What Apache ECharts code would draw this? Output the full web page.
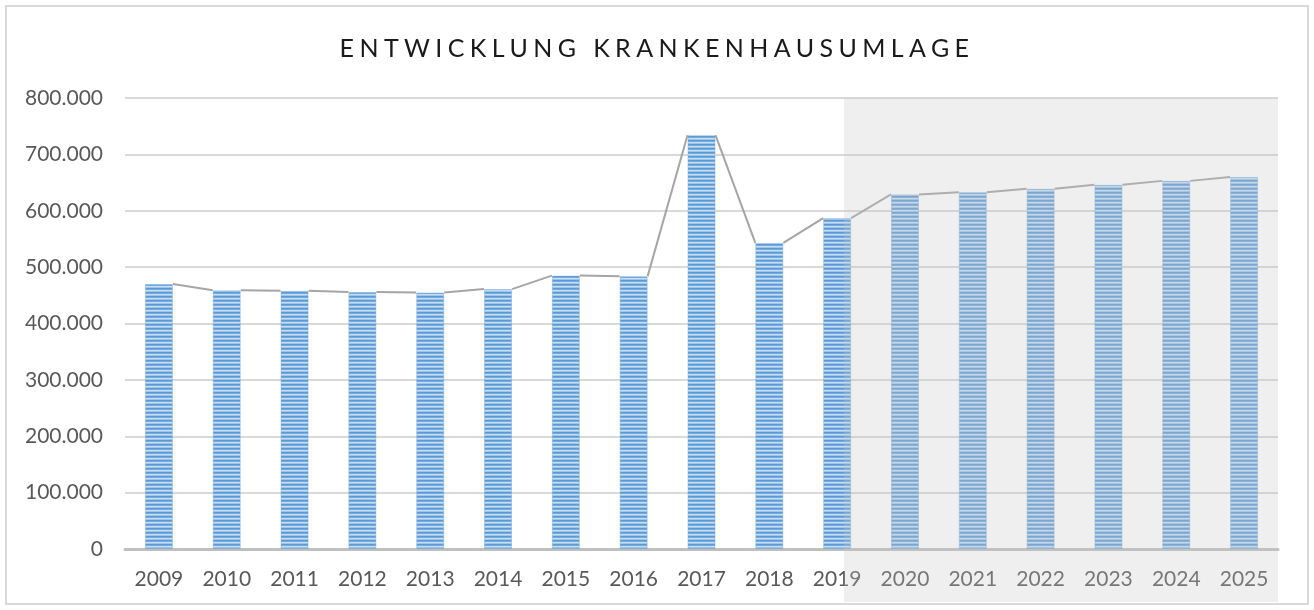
<!DOCTYPE html>
<html>
<head>
<meta charset="utf-8">
<script src="https://cdn.jsdelivr.net/npm/echarts@6/dist/echarts.min.js"></script>
<style>
  html, body { margin: 0; padding: 0; background: #fff; }
  #wrap { position: relative; width: 1314px; height: 610px; }
  #chart { position: absolute; left: 0; top: 0; width: 1314px; height: 610px; }
  #title {
    position: absolute; left: 0; top: 31px; width: 1314px; text-align: center;
    font-family: Lato, "Open Sans", sans-serif; font-size: 25px; color: #1a1a1a;
    letter-spacing: 5.4px; line-height: 32px; z-index: 5; pointer-events: none;
  }
</style>
</head>
<body>
<div id="wrap">
  <div id="chart"></div>
  <div id="title">ENTWICKLUNG KRANKENHAUSUMLAGE</div>
</div>
<script>
var years = ['2009', '2010', '2011', '2012', '2013', '2014', '2015', '2016', '2017',
             '2018', '2019', '2020', '2021', '2022', '2023', '2024', '2025'];
var umlage = [470000, 459000, 458000, 456000, 455000, 461000, 485000, 484000, 734000,
              543000, 587000, 629000, 633000, 639000, 646000, 653000, 660000];
var yTicks = [0, 100000, 200000, 300000, 400000, 500000, 600000, 700000, 800000];

// segments between neighbouring bar tops (Excel "series lines" look)
var segs = [];
for (var i = 0; i < umlage.length - 1; i++) {
  segs.push([i, umlage[i], umlage[i + 1]]);
}

// striped fill like the Excel pattern
function stripes() {
  var c = document.createElement('canvas');
  c.width = 2; c.height = 4;
  var ctx = c.getContext('2d');
  var rows = ['#5b9bd5', '#73abe0', '#c9def3', '#9ec4e8'];
  for (var r = 0; r < rows.length; r++) {
    ctx.fillStyle = rows[r];
    ctx.fillRect(0, r, 2, 1);
  }
  return c;
}

function fmt(v) {
  return String(v).replace(/\B(?=(\d{3})+(?!\d))/g, '.');
}

var chart = echarts.init(document.getElementById('chart'));
var barW = 28;
var option = {
  backgroundColor: '#fff',
  animation: false,
  textStyle: { fontFamily: 'Lato, "Open Sans", sans-serif' },
  grid: { left: 125, right: 36, top: 98, bottom: 61 },
  xAxis: {
    type: 'category',
    data: years,
    axisLine: { lineStyle: { color: '#bfbfbf', width: 3 } },
    axisTick: { show: false },
    axisLabel: { color: '#595959', fontSize: 21, margin: 20 }
  },
  yAxis: {
    type: 'value',
    min: yTicks[0],
    max: yTicks[yTicks.length - 1],
    interval: 100000,
    axisLine: { show: false },
    axisTick: { show: false },
    splitLine: { lineStyle: { color: '#d9d9d9', width: 2 } },
    axisLabel: { color: '#595959', fontSize: 21, margin: 22, formatter: fmt }
  },
  series: [
    {
      name: 'Krankenhausumlage',
      type: 'bar',
      barWidth: barW,
      data: umlage,
      itemStyle: {
        color: { image: stripes(), repeat: 'repeat' },
        borderColor: 'rgba(120,170,220,0.45)',
        borderWidth: 1
      }
    },
    {
      type: 'custom',
      data: segs,
      z: 3,
      silent: true,
      renderItem: function (params, api) {
        var a = api.coord([api.value(0), api.value(1)]);
        var b = api.coord([api.value(0) + 1, api.value(2)]);
        return {
          type: 'line',
          shape: { x1: a[0] + barW / 2, y1: a[1], x2: b[0] - barW / 2, y2: b[1] },
          style: { stroke: '#a5a5a5', lineWidth: 2 }
        };
      }
    }
  ],
  graphic: [
    {
      type: 'rect', z: 100, silent: true,
      shape: { x: 844, y: 98, width: 434, height: 504 },
      style: { fill: 'rgba(197,197,197,0.28)' }
    },
    {
      type: 'rect', z: 100, silent: true,
      shape: { x: 6, y: 6, width: 1302, height: 598 },
      style: { fill: null, stroke: '#d9d9d9', lineWidth: 2 }
    }
  ]
};
chart.setOption(option);
</script>
</body>
</html>
